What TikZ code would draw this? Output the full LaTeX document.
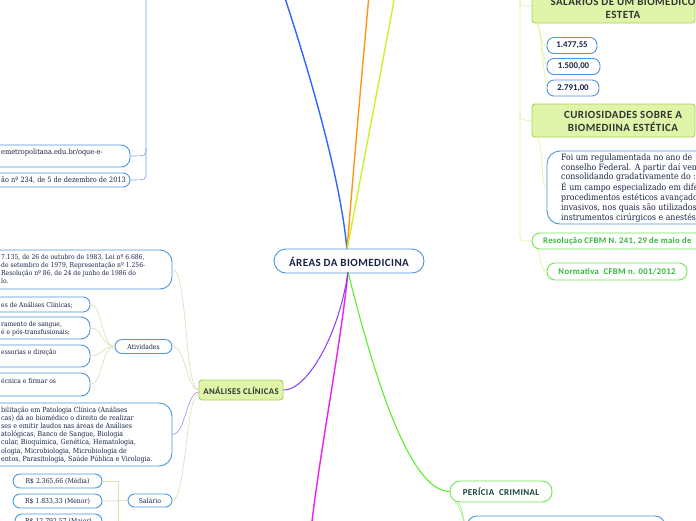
\documentclass[tikz,border=0pt]{standalone}
\usepackage{fontspec}
\setmainfont[FakeStretch=0.9]{DejaVu Serif}
\newfontfamily\carl{Carlito}
\newfontfamily\carlsp[LetterSpace=4]{Carlito}
\definecolor{navy}{RGB}{25,35,70}
\definecolor{nodeblue}{RGB}{75,150,220}
\definecolor{brblue}{RGB}{50,100,255}
\definecolor{brorange}{RGB}{255,150,20}
\definecolor{bryellow}{RGB}{205,240,40}
\definecolor{brpurple}{RGB}{130,60,255}
\definecolor{brmagenta}{RGB}{240,30,240}
\definecolor{brgreen}{RGB}{90,240,40}
\definecolor{gfill}{RGB}{224,245,170}
\definecolor{gborder}{RGB}{165,210,95}
\definecolor{lgborder}{RGB}{110,230,80}
\definecolor{gtext}{RGB}{50,185,60}
\definecolor{ptext}{RGB}{20,70,50}
\definecolor{thinyel}{RGB}{232,240,150}
\definecolor{thinpale}{RGB}{218,222,178}
\definecolor{thinpurple}{RGB}{180,125,250}
\definecolor{thinblue}{RGB}{120,160,240}
\definecolor{thingreen}{RGB}{150,240,120}
\tikzset{
  bluebox/.style={draw=nodeblue, fill=white, line width=0.9pt, rounded corners=7pt, inner sep=0pt},
  greenbox/.style={draw=gborder, fill=gfill, line width=0.9pt, rounded corners=3pt, inner sep=0pt},
  greenline/.style={draw=lgborder, fill=white, line width=0.9pt, rounded corners=8pt, inner sep=0pt},
  sertxt/.style={inner sep=0pt, text=navy, font=\fontsize{6.7}{8}\selectfont, align=left},
  serc/.style={inner sep=0pt, text=navy, font=\fontsize{6.8}{8}\selectfont},
  titletxt/.style={inner sep=0pt, text=black!80, font=\carlsp\bfseries\fontsize{11}{13}\selectfont, align=center},
  branch/.style={line width=1.4pt},
  thin/.style={line width=0.6pt}
}
\begin{document}
\begin{tikzpicture}[x=1pt,y=-1pt]
\useasboundingbox (0,0) rectangle (696,520);
\clip (0,0) rectangle (696,520);
\fill[white] (0,0) rectangle (696,520);

% ---------- main branches ----------
\coordinate (ctop) at (347,250);
\coordinate (cbot) at (348,272);
\coordinate (topblue) at (284,-5);
\coordinate (toporange) at (369,-5);
\coordinate (topyellow) at (395,-5);
\coordinate (botmag) at (311,530);
\draw[branch, brblue] (ctop) .. controls (340,170) and (302,50) .. (topblue);
\draw[branch, brorange] (ctop) .. controls (355,150) and (364,50) .. (toporange);
\draw[branch, bryellow] (ctop) .. controls (362,170) and (385,50) .. (topyellow);
\draw[branch, brmagenta] (cbot) .. controls (340,350) and (320,450) .. (botmag);

% ---------- central ----------
\node[bluebox, rounded corners=12pt, minimum width=150pt, minimum height=24pt] (central) at (349,261) {};
\node[inner sep=0pt, text=navy, font=\carlsp\bfseries\fontsize{11}{12}\selectfont] (centralt) at (349,261.5) {ÁREAS DA BIOMEDICINA};

% ---------- top-left (blue) ----------
\node[bluebox, rounded corners=9pt, minimum width=160pt, minimum height=22pt] (urlbox) at (50,156) {};
\node[bluebox, minimum width=160pt, minimum height=14pt] (resbox) at (50,180) {};
\node[sertxt, font=\fontsize{7.3}{8}\selectfont, anchor=west] (urlt) at (1,152.5) {emetropolitana.edu.br/oque-e-};
\node[sertxt, font=\fontsize{7.3}{8}\selectfont, anchor=west] (rest) at (1,180) {ão nº 234, de 5 de dezembro de 2013};
\coordinate (vbtop) at (146,-5);
\draw[thin, thinblue] (vbtop) -- (146,172) .. controls (146,180) .. (resbox.east);
\draw[thin, thinblue] (146,148) .. controls (146,156) .. (urlbox.east);

% ---------- right (yellow) ----------
\node[greenbox, minimum width=163pt, minimum height=43pt] (salbox) at (613.5,1.5) {};
\node[titletxt] (salt) at (623,7.5) {SALÁRIOS DE UM BIOMÉDICO\\ESTETA};
\node[bluebox, minimum width=50pt, minimum height=16pt] (v1) at (572,45.5) {};
\node[bluebox, minimum width=53pt, minimum height=16pt] (v2) at (573.5,66.5) {};
\node[bluebox, minimum width=52pt, minimum height=16pt] (v3) at (573,88) {};
\node[inner sep=0pt, text=navy, font=\carl\bfseries\fontsize{8.8}{9}\selectfont] (v1t) at (v1) {1.477,55};
\node[inner sep=0pt, text=navy, font=\carl\bfseries\fontsize{8.8}{9}\selectfont] (v2t) at (v2) {1.500,00};
\node[inner sep=0pt, text=navy, font=\carl\bfseries\fontsize{8.8}{9}\selectfont] (v3t) at (v3) {2.791,00};
\node[greenbox, minimum width=163pt, minimum height=33pt] (curbox) at (613.5,120.5) {};
\node[titletxt] (curt) at (623,121) {CURIOSIDADES SOBRE A\\BIOMEDIINA ESTÉTICA};
\node[bluebox, rounded corners=13pt, minimum width=183pt, minimum height=73pt] (foibox) at (638.5,187.5) {};
\node[inner sep=0pt, text=navy, font=\fontsize{8.7}{9.8}\selectfont, align=left, anchor=north west] (foit) at (561,153.5) {Foi um regulamentada no ano de\\conselho Federal. A partir daí ven\\consolidando gradativamente do :\\É um campo especializado em dife\\procedimentos estéticos avançado\\invasivos, nos quais são utilizados\\instrumentos cirúrgicos e anestés};
\node[greenline, minimum width=198pt, minimum height=16pt] (resol) at (631,241) {};
\node[inner sep=0pt, text=gtext, font=\carlsp\bfseries\fontsize{8.6}{9}\selectfont, anchor=west] (resolt) at (543,241) {Resolução CFBM N. 241, 29 de maio de};
\node[greenline, minimum width=140pt, minimum height=17pt] (norm) at (617,271.5) {};
\node[inner sep=0pt, text=gtext, font=\carlsp\bfseries\fontsize{8.7}{9}\selectfont] (normt) at (617,272) {Normativa~ CFBM n. 001/2012};

\coordinate (vytop) at (520,-5);
\draw[thin, thinyel] (vytop) -- (520,233) .. controls (520,241) .. (resol.west);
\draw[thin, thinyel] (520,112) .. controls (520,120) .. (curbox.west);
\draw[thin, thinyel] (520,-2) .. controls (520,6) .. (532,6);
\coordinate (salbl) at (537,23);
\foreach \v in {v1,v2,v3}{
  \draw[thin, thinyel] (salbl) .. controls (541,30) and (540,45) .. (\v.west);
}
\draw[thin, thinyel] (537,137) .. controls (545,150) and (540,187) .. (foibox.west);
\draw[thin, thinyel] (537,249) .. controls (542,258) and (540,271) .. (norm.west);

% ---------- green branch ----------
\node[greenline, rounded corners=10pt, minimum width=102pt, minimum height=21pt] (pericia) at (501,491.5) {};
\node[inner sep=0pt, text=ptext, font=\carlsp\bfseries\fontsize{9}{9}\selectfont] (periciat) at (501,492) {PERÍCIA~ CRIMINAL};
\node[bluebox, rounded corners=10pt, minimum width=198pt, minimum height=24pt] (botbox) at (566,528) {};
\draw[branch, brgreen, line width=1.1pt] (cbot) .. controls (375,380) and (410,491) .. (pericia.west);
\draw[thin, thingreen] (455,502) .. controls (462,508) and (462,520) .. (467,528);
\draw[thin, thingreen] (458,502) .. controls (464,510) and (462,520) .. (468,532);

% ---------- left (purple) ----------
\node[greenbox, minimum width=84pt, minimum height=20pt] (anal) at (241,390) {};
\node[inner sep=0pt, text=black!80, font=\carlsp\bfseries\fontsize{8.8}{9}\selectfont] (analt) at (241,391) {ANÁLISES CLÍNICAS};
\draw[branch, brpurple, line width=1pt] (cbot) .. controls (338,340) and (305,391) .. (anal.east);

\node[bluebox, rounded corners=12pt, minimum width=202pt, minimum height=39pt] (law) at (71,269.5) {};
\node[sertxt, font=\fontsize{6.7}{8}\selectfont, anchor=north west] (lawt) at (1,254.3) {7.135, de 26 de outubro de 1983, Lei nº 6.686,\\de setembro de 1979, Representação nº 1.256-\\Resolução nº 86, de 24 de junho de 1986 do\\lo.};

\node[bluebox, minimum width=57pt, minimum height=14pt] (ativ) at (143.5,346.5) {};
\node[serc] (ativt) at (ativ) {Atividades};
\node[bluebox, rounded corners=7pt, minimum width=120pt, minimum height=15pt] (a1) at (30,304.5) {};
\node[bluebox, rounded corners=9pt, minimum width=120pt, minimum height=22pt] (a2) at (30,328) {};
\node[bluebox, rounded corners=9pt, minimum width=120pt, minimum height=22pt] (a3) at (30,356) {};
\node[bluebox, rounded corners=9pt, minimum width=120pt, minimum height=23pt] (a4) at (30,384.5) {};
\node[sertxt, anchor=west] (a1t) at (1,305) {es de Análises Clínicas;};
\node[sertxt, anchor=north west] (a2t) at (1,320.8) {ramento de sangue,\\é e pós-transfusionais;};
\node[sertxt, anchor=west] (a3t) at (1,353) {essorias e direção};
\node[sertxt, anchor=west] (a4t) at (1,380.5) {écnica e firmar os};

\node[bluebox, rounded corners=13pt, minimum width=202pt, minimum height=63pt] (hab) at (71,434.5) {};
\node[sertxt, font=\fontsize{7}{8.1}\selectfont, anchor=north west] (habt) at (1,406.7) {bilitação em Patologia Clínica (Análises\\cas) dá ao biomédico o direito de realizar\\ses e emitir laudos nas áreas de Análises\\atológicas, Banco de Sangue, Biologia\\cular, Bioquímica, Genética, Hematologia,\\ologia, Microbiologia, Microbiologia de\\entos, Parasitologia, Saúde Pública e Virologia.};

\node[bluebox, rounded corners=6.5pt, minimum width=44pt, minimum height=13pt] (salario) at (150,500.5) {};
\node[serc] (salariot) at (salario) {Salário};
\node[bluebox, minimum width=89pt, minimum height=14pt] (s1) at (57.5,481) {};
\node[bluebox, minimum width=89pt, minimum height=14pt] (s2) at (57.5,501) {};
\node[bluebox, minimum width=87pt, minimum height=16pt] (s3) at (58.5,522) {};
\node[serc] (s1t) at (57.5,481.3) {R\$ 2.365,66 (Média)};
\node[serc] (s2t) at (57.5,501.3) {R\$ 1.833,33 (Menor)};
\node[serc] (s3t) at (58.5,521.5) {R\$ 12.792,57 (Maior)};

% thin connectors to ANALISES CLINICAS
\draw[thin, thinpale] (law.east) .. controls (188,270) and (184,388) .. (anal.west);
\draw[thin, thinpale] (ativ.east) .. controls (186,346.5) and (186,389) .. (anal.west);
\draw[thin, thinpurple] (hab.east) .. controls (186,434) and (186,392) .. (199,392);
\draw[thin, thinpale] (salario.east) .. controls (186,500) and (186,393) .. (199,393);
% Atividades children
\foreach \a in {a1,a2,a3,a4}{
  \draw[thin, thinpale] (ativ.west) .. controls +(-13,0) and +(12,0) .. (\a.east);
}
% Salario children (elbow)
\coordinate (sv) at (118,481);
\draw[thin, thinpale] (salario.west) -- (s2.east);
\draw[thin, thinpale] (s1.east) -- (sv) -- (118,522) -- (s3.east);
\end{tikzpicture}
\end{document}
